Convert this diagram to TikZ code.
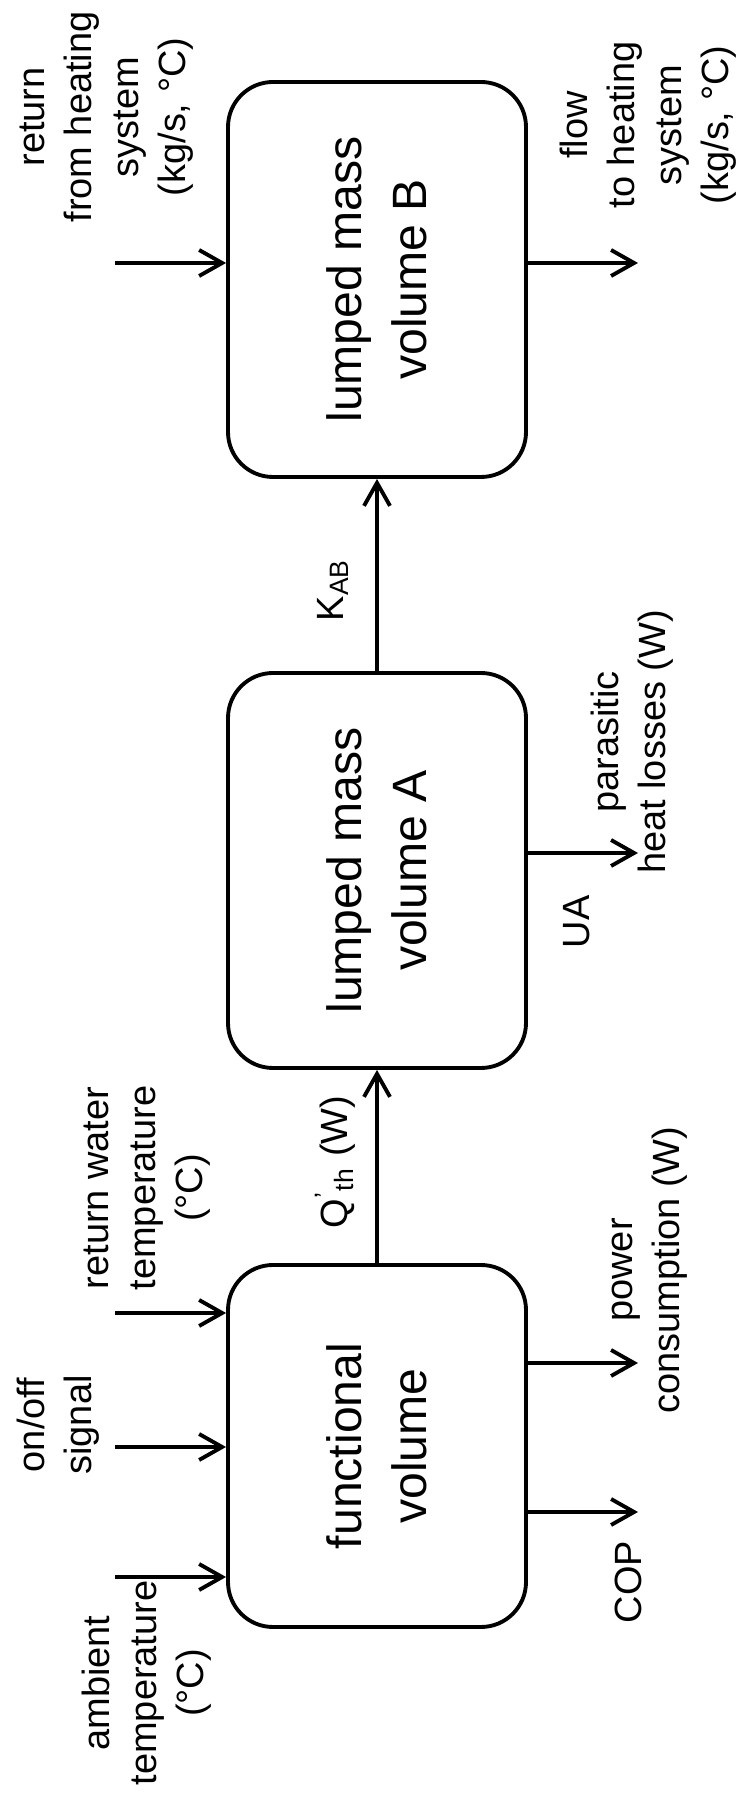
\documentclass[tikz,border=0pt]{standalone}
\usepackage{fontspec}
\setmainfont{Liberation Sans}
\usepackage{tikz}
\usetikzlibrary{arrows.meta}

\tikzset{
  vol/.style={draw, line width=1.1pt, rounded corners=0.45cm, minimum height=2.98cm,
    align=center, font=\fontsize{13.7}{18.5}\selectfont},
  sig/.style={line width=1.1pt, -{Straight Barb[length=2.3mm,width=2.6mm,line width=1.1pt]}},
  lbl/.style={align=center, inner sep=0pt, font=\fontsize{10.8}{13.4}\selectfont}
}

\begin{document}
\begin{tikzpicture}[rotate=90, transform shape]
  \useasboundingbox (0,-7.41) rectangle (17.98,0);

  % Volumes
  \node[vol, minimum width=3.62cm] (fv) at (3.52,-3.77) {functional\\volume};
  \node[vol, minimum width=3.95cm] (va) at (9.275,-3.77) {lumped mass\\volume A};
  \node[vol, minimum width=3.95cm] (vb) at (15.185,-3.77) {lumped mass\\volume B};

  % Links between volumes
  \draw[sig] (fv.east) -- (va.west);
  \draw[sig] (va.east) -- (vb.west);
  \node[lbl] (qth) at (6.36,-3.35) {Q\textsuperscript{'}\textsubscript{th} (W)};
  \node[lbl] (kab) at (12.08,-3.33) {K\textsubscript{AB}};

  % Inputs
  \coordinate (amb-in) at (2.21,-1.15);
  \coordinate (onoff-in) at (3.51,-1.15);
  \coordinate (retw-in) at (4.85,-1.15);
  \coordinate (retb-in) at (15.35,-1.15);
  \draw[sig] (amb-in) -- (amb-in |- fv.north);
  \draw[sig] (onoff-in) -- (onoff-in |- fv.north);
  \draw[sig] (retw-in) -- (retw-in |- fv.north);
  \draw[sig] (retb-in) -- (retb-in |- vb.north);

  % Outputs
  \coordinate (cop-out) at (2.86,-6.38);
  \coordinate (pow-out) at (4.35,-6.38);
  \coordinate (para-out) at (9.45,-6.38);
  \coordinate (flow-out) at (15.35,-6.38);
  \draw[sig] (cop-out |- fv.south) -- (cop-out);
  \draw[sig] (pow-out |- fv.south) -- (pow-out);
  \draw[sig] (para-out |- va.south) -- (para-out);
  \draw[sig] (flow-out |- vb.south) -- (flow-out);

  % Labels
  \node[lbl] (amb) at (1.15,-1.47) {ambient\\temperature\\(°C)};
  \node[lbl] (onoff) at (3.73,-0.58) {on/off\\signal};
  \node[lbl] (retw) at (6.10,-1.47) {return water\\temperature\\(°C)};
  \node[lbl] (retb) at (16.81,-1.07) {return\\from heating\\system\\(kg/s, °C)};
  \node[lbl] (cop) at (2.16,-6.28) {COP};
  \node[lbl] (pow) at (5.28,-6.50) {power\\consumption (W)};
  \node[lbl] (ua) at (8.76,-5.77) {UA};
  \node[lbl] (para) at (10.56,-6.32) {parasitic\\heat losses (W)};
  \node[lbl] (flow) at (16.73,-6.48) {flow\\to heating\\system\\(kg/s, °C)};
\end{tikzpicture}
\end{document}
